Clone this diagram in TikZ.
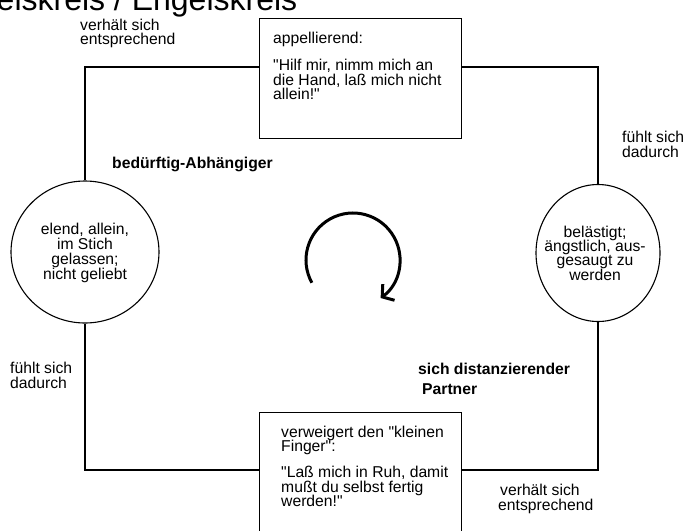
\documentclass[tikz,border=0pt]{standalone}
\usepackage{fontspec}
\newfontfamily\arial{Liberation Sans}
\usetikzlibrary{shapes.geometric,arrows.meta}

% stacked lines with a fixed baseline distance; the box baseline is the first line
\newcommand\linesL[2]{\vtop{\baselineskip=#1\lineskiplimit=-\maxdimen\lineskip=0pt\halign{##\hfil\cr#2\crcr}}}
\newcommand\linesC[2]{\vtop{\baselineskip=#1\lineskiplimit=-\maxdimen\lineskip=0pt\halign{\hfil##\hfil\cr#2\crcr}}}

\tikzset{
  txt/.style={inner sep=0pt, anchor=base west, font=\arial\fontsize{15.7}{15}\selectfont},
  bold/.style={txt, font=\arial\bfseries\fontsize{15.7}{15}\selectfont},
  ctxt/.style={inner sep=0pt, anchor=center, font=\arial\fontsize{15.7}{15}\selectfont},
  stepbox/.style={draw, line width=1.1pt, rectangle, inner sep=0pt, anchor=north west},
  mood/.style={draw, line width=1.1pt, ellipse, inner sep=0pt},
  loop/.style={line width=1.1pt},
}

\begin{document}
\begin{tikzpicture}[x=1pt,y=1pt]
\useasboundingbox (0,0) rectangle (685,-530);
\path[clip] (0,0) rectangle (685,-530);

% heading, partly cut off by the page edge
\node[inner sep=0pt, anchor=base west, font=\arial\fontsize{32}{32}\selectfont] (title) at (-64,-10) {Teufelskreis / Engelskreis};

% the two statements
\node[stepbox, minimum width=202pt, minimum height=120pt] (top) at (259,-18) {};
\node[txt] (toptext) at (273,-43) {\linesL{14.3pt}{appellierend:\cr\noalign{\vskip13.4pt}"Hilf mir, nimm mich an\cr die Hand, laß mich nicht\cr allein!"}};

\node[stepbox, minimum width=202pt, minimum height=140pt] (bot) at (259,-412) {};
\node[txt] (bottext) at (281,-437) {\linesL{14.6pt}{verweigert den "kleinen\cr Finger":\cr\noalign{\vskip11.5pt}"Laß mich in Ruh, damit\cr mußt du selbst fertig\cr werden!"}};

% the two feelings
\node[mood, minimum width=148pt, minimum height=142pt] (left) at (85,-252) {};
\node[ctxt] (lefttext) at (85,-253) {\linesC{15pt}{elend, allein,\cr im Stich\cr gelassen;\cr nicht geliebt}};

\node[mood, minimum width=124pt, minimum height=137pt] (right) at (598,-253) {};
\node[ctxt] (righttext) at (595,-253) {\linesC{14.3pt}{belästigt;\cr ängstlich, aus-\cr gesaugt zu\cr werden}};

% the loop
\coordinate (ytop) at (0,-67);
\coordinate (ybot) at (0,-470);
\draw[loop] (top.west |- ytop) -| (left.north);
\draw[loop] (left.south) |- (bot.west |- ybot);
\draw[loop] (bot.east |- ybot) -| (right.south);
\draw[loop] (right.north) |- (top.east |- ytop);

% labels along the loop
\node[txt] (l1) at (80,-30) {\linesL{14.5pt}{verhält sich\cr entsprechend}};
\node[txt] (l2) at (622,-142) {\linesL{15pt}{fühlt sich\cr dadurch}};
\node[txt] (l3) at (10,-373) {\linesL{15pt}{fühlt sich\cr dadurch}};
\node[txt] (l4) at (500,-495) {\linesL{15pt}{verhält sich\cr \kern-2pt entsprechend}};

% roles
\node[bold] (r1) at (112,-168) {bedürftig-Abhängiger};
\node[bold] (r2) at (418,-374) {\linesL{20pt}{sich distanzierender\cr \kern4pt Partner}};

% turning arrow in the middle
\coordinate (cyc) at (353,-260);
\draw[line width=3pt, -{Straight Barb[length=8pt,width=20pt]}] ([shift={(209:47)}]cyc) arc[start angle=209, end angle=-54, radius=47];
\end{tikzpicture}
\end{document}
